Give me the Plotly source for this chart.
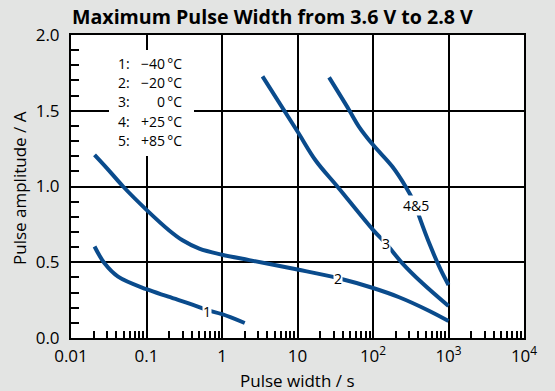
import numpy as np
import plotly.graph_objects as go

# ---- data ----
c1_x = [0.0205, 0.0278, 0.042, 0.1, 0.195, 0.44, 0.66, 1.0, 2.0]
c1_y = [0.604, 0.493, 0.405, 0.322, 0.273, 0.214, 0.182, 0.157, 0.099]

c2_x = [0.0205, 0.03, 0.049, 0.1, 0.2, 0.3, 0.5, 1.0, 2.3, 10, 34, 100, 222, 550, 1000]
c2_y = [1.209, 1.12, 1.0, 0.846, 0.71, 0.645, 0.59, 0.55, 0.514, 0.452, 0.396, 0.33, 0.269, 0.18, 0.112]

c3_x = [3.44, 10, 17.5, 33.7, 100, 147, 245, 453, 1000]
c3_y = [1.727, 1.363, 1.17, 1.0, 0.714, 0.626, 0.493, 0.361, 0.211]

c45_x = [26.2, 48, 65, 100, 180, 270, 363, 411, 583, 790, 1000]
c45_y = [1.72, 1.507, 1.396, 1.275, 1.132, 1.0, 0.88, 0.80, 0.60, 0.449, 0.35]

curve_labels = ["1", "2", "3", "4&5"]
label_x = [0.64, 34, 148, 368]
label_y = [0.176, 0.396, 0.622, 0.876]

legend_ids = ["1:", "2:", "3:", "4:", "5:"]
legend_temps = ["\u221240\u2009\u00b0C", "\u221220\u2009\u00b0C", "0\u2009\u00b0C",
                "+25\u2009\u00b0C", "+85\u2009\u00b0C"]

x_tickvals = [0.01, 0.1, 1, 10, 100, 1000, 10000]
x_ticktext = ["0.01", "0.1", "1", "10", "10<sup>2</sup>", "10<sup>3</sup>", "10<sup>4</sup>"]

title_text = "Maximum Pulse Width from 3.6 V to 2.8 V"
x_title = "Pulse width / s"
y_title = "Pulse amplitude / A"

# ---- figure ----
W, H = 555, 391
L, R, T, B = 71, 31, 35, 53
BLUE = "#0a4b8c"
FONT = "Open Sans"

fig = go.Figure()
for xs, ys in [(c1_x, c1_y), (c2_x, c2_y), (c3_x, c3_y), (c45_x, c45_y)]:
    fig.add_trace(go.Scatter(x=xs, y=ys, mode="lines",
                             line=dict(color=BLUE, width=4, shape="spline", smoothing=1.0),
                             showlegend=False, hoverinfo="skip"))

pw = W - L - R
ph = H - T - B
DEC = pw / 6.0          # pixels per decade
YU = ph / 2.0           # pixels per amplitude unit

def px2paper(px, py):
    return (px - L) / pw, (H - B - py) / ph

def px2data(px, py):
    return 10 ** ((px - L) / DEC - 2), (H - B - py) / YU

# white box behind the legend text (between gridlines and traces)
bx0, by0 = px2data(109, 156)
bx1, by1 = px2data(194, 50)
fig.add_shape(type="rect", xref="x", yref="y", x0=bx0, x1=bx1, y0=by0, y1=by1,
              fillcolor="white", line=dict(width=0), layer="between")

legend_top = 63.5
for i, (lid, lt) in enumerate(zip(legend_ids, legend_temps)):
    py = legend_top + i * 19.2
    xa, ya = px2paper(116, py)
    fig.add_annotation(xref="paper", yref="paper", x=xa, y=ya, text=lid, showarrow=False,
                       xanchor="left", yanchor="middle", font=dict(family=FONT, size=14, color="black"))
    xb, yb = px2paper(184, py)
    fig.add_annotation(xref="paper", yref="paper", x=xb, y=yb, text=lt, showarrow=False,
                       xanchor="right", yanchor="middle", font=dict(family=FONT, size=14, color="black"))

for t, lx, ly in zip(curve_labels, label_x, label_y):
    fig.add_annotation(x=np.log10(lx), y=ly, text=t, showarrow=False, bgcolor="white",
                       borderpad=0, font=dict(family=FONT, size=14, color="black"))

# axis titles
ax_, ay_ = px2paper(297.5, 380)
fig.add_annotation(xref="paper", yref="paper", x=ax_, y=ay_, text=x_title, showarrow=False,
                   xanchor="center", yanchor="middle", font=dict(family=FONT, size=17, color="black"))
bx_, by_ = px2paper(19, 188)
fig.add_annotation(xref="paper", yref="paper", x=bx_, y=by_, text=y_title, showarrow=False,
                   textangle=-90, xanchor="center", yanchor="middle",
                   font=dict(family=FONT, size=17, color="black"))

minor_x = [m * 10.0 ** k for k in range(-2, 4) for m in range(2, 10)]

fig.update_layout(
    width=W, height=H,
    margin=dict(l=L, r=R, t=T, b=B, pad=0),
    paper_bgcolor="#e3e4e3", plot_bgcolor="white",
    font=dict(family=FONT, size=17, color="black"),
    title=dict(text="<b>" + title_text + "</b>", x=72 / W, xanchor="left",
               y=1 - 17.5 / H, yanchor="middle", xref="container", yref="container",
               font=dict(family=FONT, size=19.6, color="black")),
    xaxis=dict(type="log", range=[-2, 4], tickmode="array", tickvals=x_tickvals,
               ticktext=x_ticktext, showgrid=True, gridcolor="black", gridwidth=1.5,
               showline=True, linecolor="black", linewidth=2, mirror=True,
               ticks="inside", ticklen=7, tickcolor="black", tickwidth=1.5,
               ticklabelstandoff=2, zeroline=False, tickfont=dict(size=17),
               minor=dict(tickmode="array", tickvals=minor_x, ticks="inside", ticklen=7,
                          tickcolor="black", tickwidth=1.5, showgrid=False)),
    yaxis=dict(range=[0, 2], tickmode="linear", tick0=0, dtick=0.5, tickformat=".1f",
               showgrid=True, gridcolor="black", gridwidth=1.5,
               showline=True, linecolor="black", linewidth=2, mirror=True,
               ticks="inside", ticklen=8, tickcolor="black", tickwidth=1.5,
               ticklabelstandoff=6, zeroline=False, tickfont=dict(size=17),
               minor=dict(tickmode="linear", tick0=0, dtick=0.1, ticks="inside", ticklen=8,
                          tickcolor="black", tickwidth=1.5, showgrid=False)),
)

fig.write_html("out.html", config={"displayModeBar": False},
               post_script="document.body.style.margin='0px';document.body.style.padding='0px';")
